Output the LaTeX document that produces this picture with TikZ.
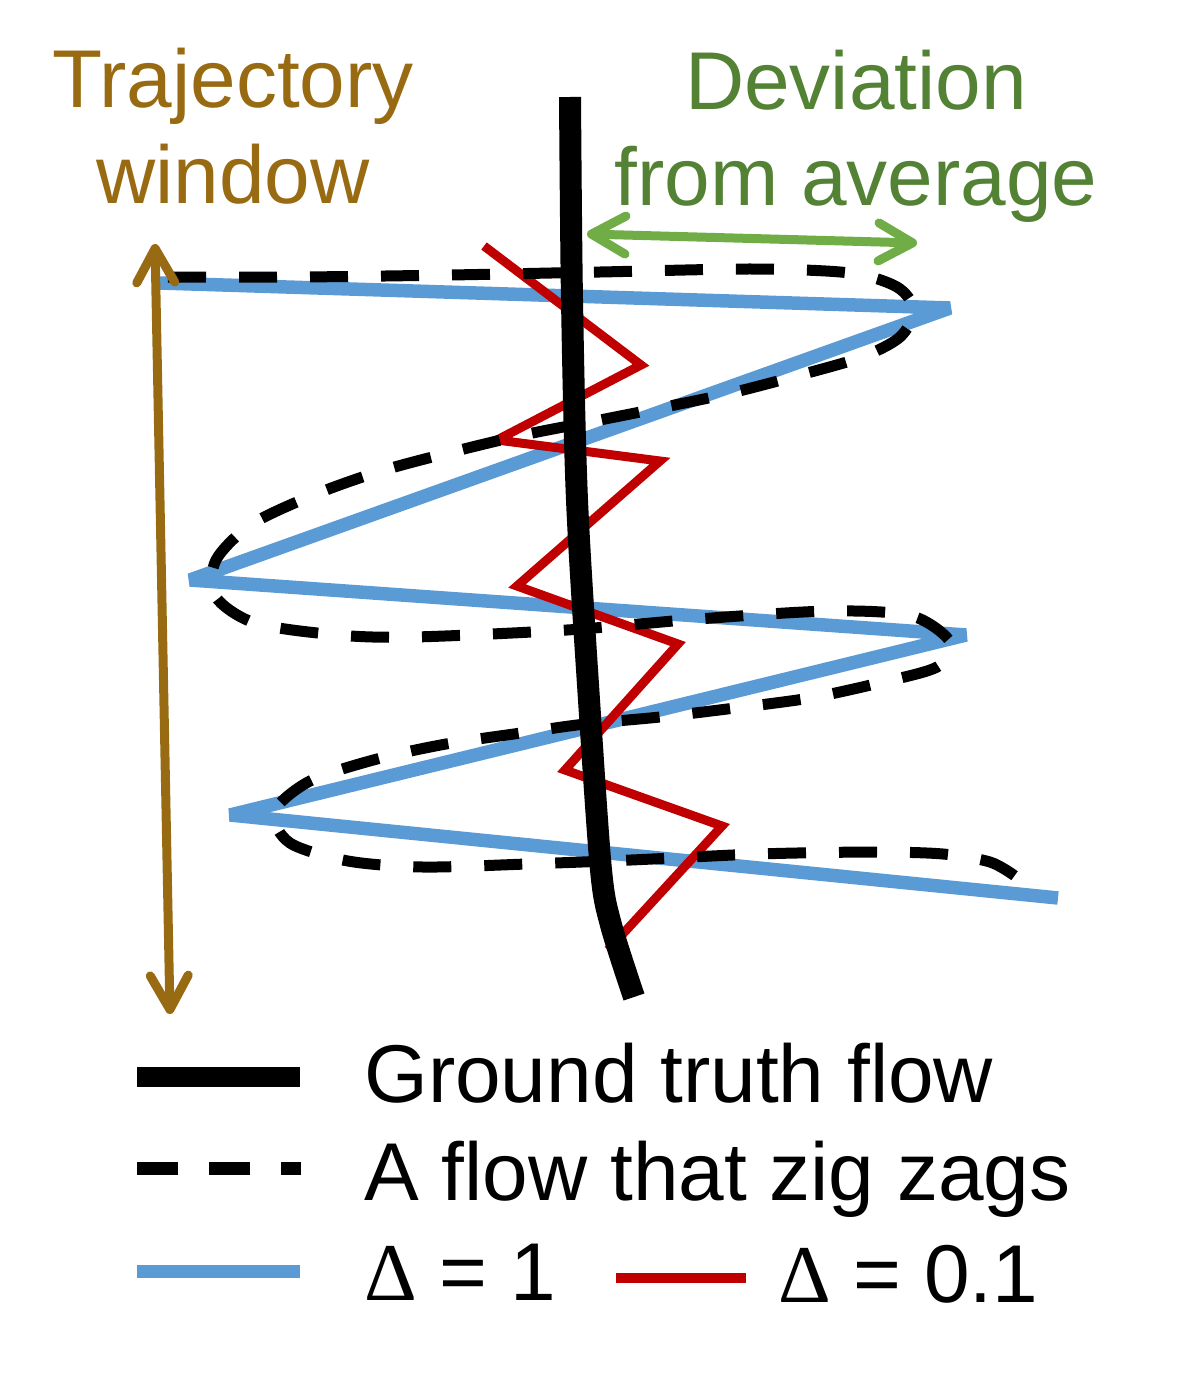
\documentclass[tikz,border=0pt]{standalone}
\usepackage{fontspec}
\setmainfont{Liberation Sans}
\newfontfamily\deltafont{Liberation Serif}
\usetikzlibrary{arrows.meta}
\definecolor{cblue}{RGB}{91,155,213}
\definecolor{cred}{RGB}{192,0,0}
\definecolor{cgreen}{RGB}{112,173,71}
\definecolor{cgreentext}{RGB}{84,130,53}
\definecolor{cbrown}{RGB}{152,107,19}
\tikzset{mybarb/.tip={Straight Barb[length=34pt,width=38pt,round]}}
\begin{document}
\begin{tikzpicture}[x=1pt,y=-1pt,
  lbl/.style={font=\fontsize{82}{96}\selectfont, inner sep=0pt},
  gtflow/.style={line width=22pt, black},
  zigzag/.style={line width=11pt, black, dash pattern=on 38pt off 33pt},
  deltaone/.style={line width=13.5pt, cblue, line join=bevel},
  deltatenth/.style={line width=9pt, cred, line join=miter, miter limit=3}]
\useasboundingbox (0,0) rectangle (1178,1373);

% blue: Delta = 1
\draw[deltaone] (160,283) -- (950,308) -- (190,580) -- (966,635) -- (230,815) -- (1058,898);
% red: Delta = 0.1
\draw[deltatenth] (484,246) -- (641,365) -- (497,440) -- (660,461) -- (517,586) -- (678,644) -- (565,770) -- (722,826) -- (608,950);
% dashed zig-zag flow
\draw[zigzag] plot[smooth, tension=0.5] coordinates {
 (168,277) (300,277) (450,275) (600,272) (753,269) (850,273) (897,287) (914,310) (900,337)
 (862,357) (800,375) (731,393) (665,407) (600,420) (523,435) (452,452) (381,471) (316,494)
 (252,524) (216,560) (215,596) (255,623) (338,635) (414,637) (567,630) (698,619) (830,611)
 (912,616) (951,643) (937,667) (879,683) (810,698) (735,708) (660,717) (585,724) (521,733)
 (446,744) (377,759) (310,781) (274,812) (290,843) (348,861) (423,867) (527,864) (631,860)
 (758,854) (874,852) (943,854) (990,862) (1015,876)};
% ground truth flow
\draw[gtflow] plot[smooth, tension=0.5] coordinates {
 (570,97) (572,300) (577,500) (589,700) (601,870) (611,925) (634,997)};

% arrows
\coordinate (tw1) at (155,244);
\coordinate (tw2) at (170,1014);
\draw[cbrown, line width=9pt, {mybarb}-{mybarb}] (tw1) -- (tw2);
\coordinate (dv1) at (587,234);
\coordinate (dv2) at (917,243);
\draw[cgreen, line width=9pt, {mybarb}-{mybarb}] (dv1) -- (dv2);

% labels
\node[lbl, text=cbrown, anchor=base] (traj) at (233,107) {Trajectory};
\node[lbl, text=cbrown, anchor=base] (wind) at (233,203) {window};
\node[lbl, text=cgreentext, anchor=base] (dev) at (856,109) {Deviation};
\node[lbl, text=cgreentext, anchor=base] (from) at (856,205) {from average};

% legend
\coordinate (l1a) at (137,1077); \coordinate (l1b) at (300,1077);
\draw[line width=20pt] (l1a) -- (l1b);
\node[lbl, anchor=base west] (gt) at (364,1102) {Ground truth flow};
\coordinate (l2a) at (137,1168); \coordinate (l2b) at (301,1168);
\draw[line width=13pt, dash pattern=on 41pt off 31pt] (l2a) -- (l2b);
\node[lbl, anchor=base west] (zz) at (364,1200) {A flow that zig zags};
\coordinate (l3a) at (137,1271); \coordinate (l3b) at (300,1271);
\draw[line width=13pt, cblue] (l3a) -- (l3b);
\node[lbl, anchor=base west] (d1) at (364,1300) {{\deltafont Δ} = 1};
\coordinate (l4a) at (616,1278); \coordinate (l4b) at (746,1278);
\draw[line width=10pt, cred] (l4a) -- (l4b);
\node[lbl, anchor=base west] (d2) at (778,1302) {{\deltafont Δ} = 0.1};
\end{tikzpicture}
\end{document}
